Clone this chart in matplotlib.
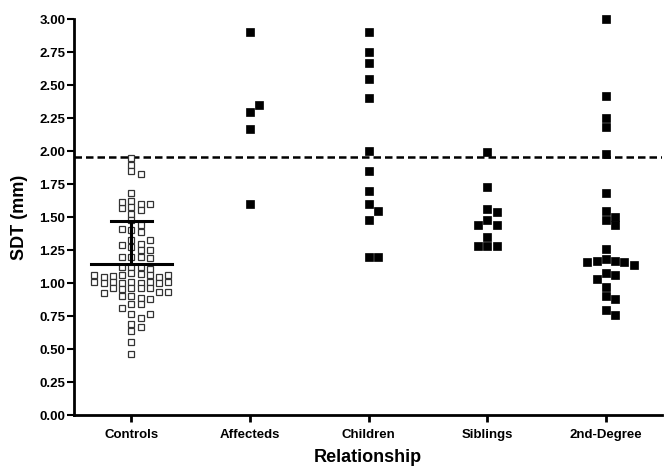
import matplotlib
matplotlib.use("Agg")
import matplotlib.pyplot as plt
import numpy as np

plt.rcParams['font.family'] = ['Liberation Sans', 'DejaVu Sans']
plt.rcParams['font.weight'] = 'bold'

groups = ['Controls', 'Affecteds', 'Children', 'Siblings', '2nd-Degree']

controls = [1.945, 1.894, 1.85, 1.826, 1.68, 1.623, 1.603, 1.578, 1.553, 1.571,
            1.598, 1.614, 1.527, 1.48, 1.44, 1.40, 1.41, 1.39, 1.33, 1.30,
            1.275, 1.29, 1.326, 1.25, 1.25, 1.20, 1.20, 1.20, 1.19, 1.124,
            1.124, 1.124, 1.11, 1.08, 1.07, 1.065, 1.06, 1.055, 1.05, 1.05,
            1.06, 1.065, 1.01, 1.005, 1.005, 1.01, 1.01, 1.00, 1.00, 1.01,
            1.01, 0.96, 0.96, 0.955, 0.96, 0.965, 0.93, 0.925, 0.93, 0.90,
            0.89, 0.905, 0.88, 0.84, 0.845, 0.81, 0.765, 0.74, 0.77, 0.69,
            0.67, 0.64, 0.555, 0.467]
affecteds = [2.90, 2.30, 2.35, 2.17, 1.60]
children = [2.90, 2.75, 2.67, 2.55, 2.40, 2.00, 1.85, 1.70, 1.60, 1.55, 1.48, 1.20, 1.20]
siblings = [1.99, 1.73, 1.56, 1.54, 1.48, 1.44, 1.44, 1.35, 1.28, 1.28, 1.28]
second_degree = [3.00, 2.42, 2.25, 2.18, 1.98, 1.68, 1.55, 1.50, 1.48, 1.44, 1.26,
                 1.18, 1.17, 1.17, 1.16, 1.16, 1.14, 1.08, 1.06, 1.03, 0.97,
                 0.90, 0.88, 0.80, 0.76]

threshold = 1.955


def swarm(vals, step=0.078, min_dy=0.055):
    # simple column-scatter layout: nearest free slot 0, +1, -1, +2, ...
    placed = []
    offs = []
    cands = [0]
    for k in range(1, 12):
        cands += [k, -k]
    for v in vals:
        for k in cands:
            ok = True
            for pk, pv in placed:
                if pk == k and abs(pv - v) < min_dy:
                    ok = False
                    break
            if ok:
                break
        placed.append((k, v))
        offs.append(k * step)
    return np.array(offs)


fig = plt.figure(figsize=(6.65, 4.66), dpi=100)
ax = fig.add_axes([0.111, 0.109, 0.884, 0.85])

data = [controls, affecteds, children, siblings, second_degree]
for i, vals in enumerate(data):
    vals = np.array(vals)
    if i == 0:
        xs = i + swarm(vals, min_dy=0.042)
        ax.plot(xs, vals, 's', ms=5, mfc='white', mec='#333333', mew=0.9,
                ls='none', clip_on=False, zorder=3)
    else:
        xs = i + swarm(vals)
        ax.plot(xs, vals, 's', ms=5.5, mfc='black', mec='black', mew=0.5,
                ls='none', clip_on=False, zorder=3)

# mean and SD for controls
c = np.array(controls)
m = c.mean()
sd = c.std(ddof=1)
ax.plot([-0.345, 0.345], [m, m], color='black', lw=2.2, zorder=4)
ax.plot([0, 0], [m, m + sd], color='black', lw=2.2, zorder=4)
ax.plot([-0.173, 0.173], [m + sd, m + sd], color='black', lw=2.2, zorder=4)

ax.axhline(threshold, color='black', lw=1.8, ls=(0, (3, 1.6)), zorder=2)

ax.set_xlim(-0.486, 4.47)
ax.set_ylim(0, 3.0)
ax.set_yticks(np.arange(0, 3.01, 0.25))
ax.set_yticklabels(['%.2f' % t for t in np.arange(0, 3.01, 0.25)], fontsize=9.5, fontweight='bold')
ax.set_xticks(range(len(groups)))
ax.set_xticklabels(groups, fontsize=9.5, fontweight='bold')

for s in ['top', 'right']:
    ax.spines[s].set_visible(False)
ax.spines['left'].set_linewidth(2)
ax.spines['bottom'].set_linewidth(2)
ax.tick_params(axis='y', direction='out', length=5, width=1.5, pad=1)
ax.tick_params(axis='x', direction='out', length=5, width=2, pad=5)

ax.set_ylabel('SDT (mm)', fontsize=13, fontweight='bold', labelpad=8)
ax.set_xlabel('Relationship', fontsize=13, fontweight='bold', labelpad=6)

fig.savefig('out.png', dpi=100)
